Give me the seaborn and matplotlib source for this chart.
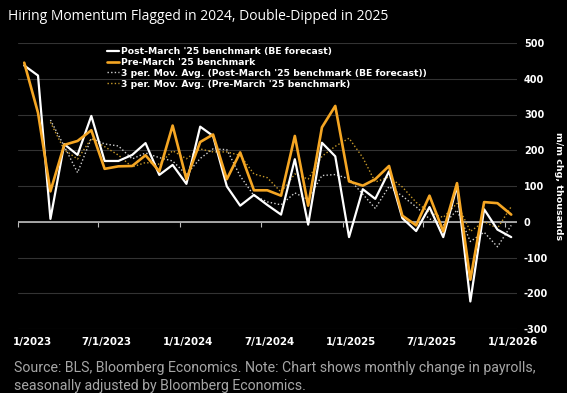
import matplotlib
matplotlib.use("Agg")
import matplotlib.pyplot as plt
import matplotlib.dates as mdates
import matplotlib.transforms as mtransforms
import seaborn as sns
import pandas as pd

# ---------------- data ----------------
months = pd.date_range("2023-01-01", periods=37, freq="MS") + pd.Timedelta(days=14)

post_march = [437, 409, 8, 217, 187, 296, 170, 170, 187, 220, 131, 159,
              106, 266, 240, 99, 45, 75, 47, 20, 175, -8, 221, 183,
              -43, 91, 64, 141, 10, -26, 41, -43, 100, -223, 35, -22, -43]
pre_march = [445, 305, 85, 215, 226, 256, 148, 155, 156, 186, 141, 269,
             119, 223, 244, 119, 194, 88, 88, 73, 240, 45, 264, 324,
             113, 101, 119, 156, 17, -10, 73, -27, 108, -162, 55, 52, 20]

series_labels = ["Post-March '25 benchmark (BE forecast)",
                 "Pre-March '25 benchmark",
                 "3 per. Mov. Avg. (Post-March '25 benchmark (BE forecast))",
                 "3 per. Mov. Avg. (Pre-March '25 benchmark)"]

tick_dates = ["2023-01-01", "2023-07-01", "2024-01-01", "2024-07-01",
              "2025-01-01", "2025-07-01", "2026-01-01"]
tick_labels = ["1/2023", "7/1/2023", "1/1/2024", "7/1/2024",
               "1/1/2025", "7/1/2025", "1/1/2026"]
y_ticks = [-300, -200, -100, 0, 100, 200, 300, 400, 500]

title = "Hiring Momentum Flagged in 2024, Double-Dipped in 2025"
source1 = "Source: BLS, Bloomberg Economics. Note: Chart shows monthly change in payrolls,"
source2 = "seasonally adjusted by Bloomberg Economics."

df = pd.DataFrame({"date": months, "post": post_march, "pre": pre_march})
df["post_ma"] = df["post"].rolling(3).mean()
df["pre_ma"] = df["pre"].rolling(3).mean()

# ---------------- style ----------------
sns.set_theme(style="dark")
plt.rcParams.update({
    "figure.facecolor": "black",
    "axes.facecolor": "black",
    "savefig.facecolor": "black",
    "font.family": ["DejaVu Sans"],
})

WHITE = "#ffffff"
ORANGE = "#f5a623"
WHITE_DOT = "#d0d0d0"
ORANGE_DOT = "#c89a2a"

fig = plt.figure(figsize=(5.67, 3.93), dpi=100)
ax = fig.add_axes([18 / 567, 1 - 329 / 393, 499 / 567, 286 / 393])

ax.axhline(0, color="#bdbdbd", linewidth=1.2, zorder=1.5)

sns.lineplot(data=df, x="date", y="post_ma", ax=ax, color=WHITE_DOT,
             linewidth=1.0, linestyle=(0, (1, 1.6)), label=series_labels[2], zorder=2)
sns.lineplot(data=df, x="date", y="pre_ma", ax=ax, color=ORANGE_DOT,
             linewidth=1.0, linestyle=(0, (1, 1.6)), label=series_labels[3], zorder=2)
sns.lineplot(data=df, x="date", y="post", ax=ax, color=WHITE,
             linewidth=1.6, label=series_labels[0], zorder=3)
sns.lineplot(data=df, x="date", y="pre", ax=ax, color=ORANGE,
             linewidth=1.9, label=series_labels[1], zorder=4)

# axes limits
x0 = mdates.date2num(pd.Timestamp("2023-01-01"))
ax.set_xlim(x0, x0 + 1123)
ax.set_ylim(-300, 500)

for s in ax.spines.values():
    s.set_visible(False)

# y axis on right
ax.yaxis.tick_right()
ax.set_yticks(y_ticks)
ax.set_yticklabels([str(v) for v in y_ticks])
ax.tick_params(axis="y", length=0, pad=5, labelsize=7, labelcolor=WHITE)
for t in ax.get_yticklabels():
    t.set_fontweight("bold")
ax.grid(axis="y", color="#333333", linewidth=0.8)
ax.grid(axis="x", visible=False)

ax.yaxis.set_label_position("right")
ax.set_ylabel("m/m chg, thousands", rotation=270, color=WHITE,
              fontweight="bold", fontsize=6.8, ha="center", va="center")
ax.yaxis.set_label_coords((558 - 18) / 499, 0.5)

# x labels at bottom
tick_nums = [mdates.date2num(pd.Timestamp(d)) for d in tick_dates]
ax.set_xticks(tick_nums)
ax.set_xticklabels(tick_labels)
ax.tick_params(axis="x", length=0, pad=6, labelsize=7.4, labelcolor=WHITE)
ax.set_xlabel("")
for i, t in enumerate(ax.get_xticklabels()):
    t.set_fontweight("bold")
    dx = 8 / 100 + (6 / 100 if i == 0 else 0)
    t.set_transform(t.get_transform() +
                    mtransforms.ScaledTranslation(dx, 0, fig.dpi_scale_trans))

# small ticks on the zero line
sec = ax.secondary_xaxis(300 / 800)
sec.set_xticks(tick_nums)
sec.tick_params(axis="x", length=3.5, width=0.8, direction="out",
                color="#bdbdbd", labelbottom=False)
for s in sec.spines.values():
    s.set_visible(False)

# legend
handles, labels = ax.get_legend_handles_labels()
order = [labels.index(l) for l in series_labels]
leg = ax.legend([handles[i] for i in order], [labels[i] for i in order],
                loc="upper left", bbox_to_anchor=(107 / 567, 1 - 47 / 393),
                bbox_transform=fig.transFigure, frameon=False,
                borderaxespad=0, borderpad=0, handlelength=1.35,
                handletextpad=0.2, labelspacing=0.2,
                prop={"weight": "bold", "size": 6.65})
for t in leg.get_texts():
    t.set_color(WHITE)

# title and source
fig.text(8 / 567, 1 - 17 / 393, title, color=WHITE, fontsize=10.0,
         family=["Open Sans", "DejaVu Sans"], ha="left", va="center")
fig.text(14 / 567, 1 - 368 / 393, source1, color="#a6a6a6", fontsize=10.2,
         family=["Roboto", "DejaVu Sans"], ha="left", va="center")
fig.text(14 / 567, 1 - 386 / 393, source2, color="#a6a6a6", fontsize=10.2,
         family=["Roboto", "DejaVu Sans"], ha="left", va="center")

fig.savefig("out.png", dpi=100)
